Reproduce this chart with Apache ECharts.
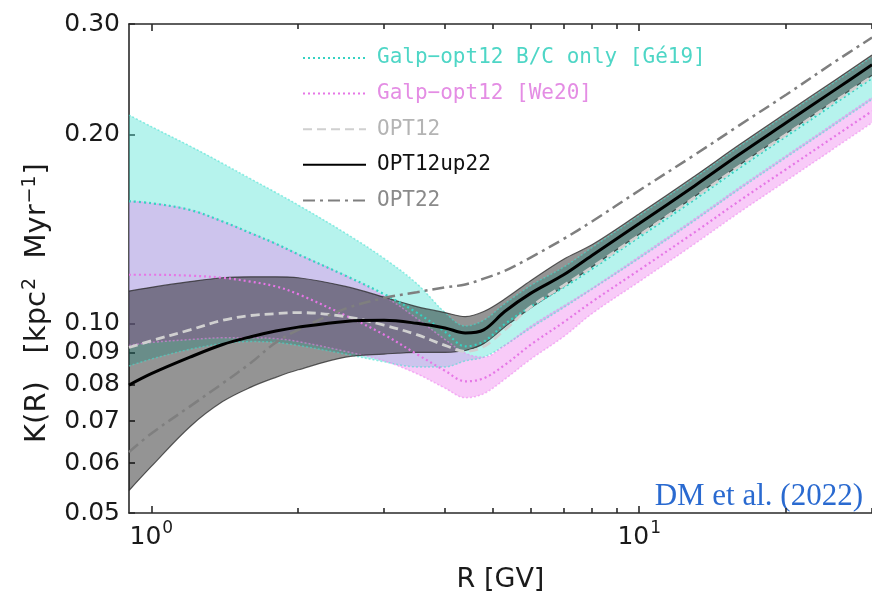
<!DOCTYPE html>
<html><head><meta charset="utf-8">
<script src="https://cdn.jsdelivr.net/npm/echarts@6/dist/echarts.min.js"></script>
<style>html,body{margin:0;padding:0;background:#fff}#c{width:872px;height:598px}</style>
</head><body><div id="c"></div>
<script>
// Rigidity grid (GV)
const R = [0.9, 1.0, 1.2, 1.4, 1.6, 1.8, 2.0, 2.5, 3.0, 3.5, 4.0, 4.4, 4.8, 5.3, 6.0, 7.0, 8.0, 10, 13, 16, 20, 25, 30];

// OPT12up22 (black) and its band
const opt12up22   = [0.0799,0.0833,0.0885,0.0927,0.0954,0.0974,0.0988,0.1009,0.1013,0.1002,0.0985,0.0967,0.0978,0.1046,0.1119,0.1197,0.1285,0.1444,0.1659,0.1858,0.2089,0.2348,0.2584];
const opt12up22Hi = [0.1127,0.1143,0.1167,0.1184,0.1188,0.1188,0.1184,0.1147,0.1103,0.1065,0.1042,0.1027,0.1046,0.1095,0.1172,0.1267,0.1336,0.1497,0.1719,0.1925,0.2165,0.2433,0.2678];
const opt12up22Lo = [0.0543,0.0593,0.0686,0.0752,0.0793,0.0822,0.0845,0.0885,0.0895,0.0901,0.0901,0.0907,0.0930,0.0988,0.1061,0.1147,0.1231,0.1389,0.1595,0.1787,0.2009,0.2259,0.2486];

// OPT12 (dashed) and OPT22 (dash-dot)
const opt12 = [0.0917,0.0940,0.0978,0.1013,0.1031,0.1038,0.1042,0.1027,0.0995,0.0961,0.0924,0.0904,0.0920,0.0978,0.1065,0.1151,0.1231,0.1384,0.1590,0.1781,0.2002,0.2251,0.2477];
const opt22 = [0.0625,0.0669,0.0739,0.0804,0.0867,0.0934,0.0978,0.1057,0.1099,0.1123,0.1143,0.1155,0.1180,0.1214,0.1276,0.1365,0.1455,0.1630,0.1858,0.2067,0.2315,0.2603,0.2854];

// Galp-opt12 B/C only [Ge19]
const ge19   = [0.1567,0.1556,0.1518,0.1455,0.1394,0.1341,0.1290,0.1193,0.1115,0.1042,0.0971,0.0921,0.0937,0.0999,0.1065,0.1143,0.1223,0.1374,0.1578,0.1768,0.1988,0.2235,0.2459];
const ge19Hi = [0.2149,0.2060,0.1918,0.1800,0.1700,0.1618,0.1545,0.1394,0.1271,0.1159,0.1042,0.0992,0.1013,0.1076,0.1151,0.1231,0.1322,0.1486,0.1707,0.1912,0.2149,0.2416,0.2659];
const ge19Lo = [0.0857,0.0879,0.0911,0.0930,0.0937,0.0934,0.0924,0.0895,0.0870,0.0854,0.0854,0.0873,0.0885,0.0924,0.0985,0.1061,0.1135,0.1271,0.1460,0.1635,0.1839,0.2067,0.2275];

// Galp-opt12 [We20]
const we20   = [0.1197,0.1197,0.1193,0.1184,0.1167,0.1147,0.1115,0.1031,0.0961,0.0895,0.0842,0.0810,0.0819,0.0860,0.0927,0.1006,0.1084,0.1218,0.1399,0.1567,0.1762,0.1981,0.2180];
const we20Hi = [0.1567,0.1556,0.1518,0.1455,0.1394,0.1341,0.1290,0.1193,0.1107,0.1020,0.0944,0.0898,0.0885,0.0924,0.0992,0.1068,0.1139,0.1280,0.1470,0.1647,0.1852,0.2082,0.2291];
const we20Lo = [0.0924,0.0934,0.0944,0.0950,0.0950,0.0947,0.0937,0.0904,0.0873,0.0833,0.0790,0.0763,0.0774,0.0816,0.0879,0.0954,0.1038,0.1167,0.1341,0.1502,0.1688,0.1898,0.2089];

// Axis ticks
const yTicks = [0.05, 0.06, 0.07, 0.08, 0.09, 0.10, 0.20, 0.30];
const xMajor = [1, 10];
const xMinor = [2, 3, 4, 5, 6, 7, 8, 9, 20, 30];
const xRange = [0.9, 30];
const yRange = [0.05, 0.30];

const names = {
  ge: 'Galp\u2212opt12 B/C only [G\u00e919]',
  we: 'Galp\u2212opt12 [We20]',
  o12: 'OPT12',
  up: 'OPT12up22',
  o22: 'OPT22'
};

const L = Math.log10;
const pts = a => R.map((r, i) => [L(r), L(a[i])]);
// for stacked band series: value first (stacked dim), rigidity second
const ptsYX = a => R.map((r, i) => [L(a[i]), L(r)]);
const diffYX = (lo, hi) => R.map((r, i) => [L(hi[i]) - L(lo[i]), L(r)]);
const SM = 0.35;

function band(id, lo, hi, fill) {
  return [
    {type: 'line', name: id + 'base', stack: id, stackStrategy: 'all', data: ptsYX(lo), encode: {x: 1, y: 0},
     smooth: SM, symbol: 'none', lineStyle: {opacity: 0}, silent: true, z: 1},
    {type: 'line', name: id + 'fill', stack: id, stackStrategy: 'all', data: diffYX(lo, hi), encode: {x: 1, y: 0},
     smooth: SM, symbol: 'none', lineStyle: {opacity: 0}, areaStyle: {color: fill, opacity: 1}, silent: true, z: 1}
  ];
}
function edge(id, a, color, type, w) {
  return {type: 'line', name: id, data: pts(a), smooth: SM, symbol: 'none', silent: true, z: 2,
    lineStyle: {color: color, type: type, width: w}};
}
function mainLine(name, a, color, type, w, z) {
  return {type: 'line', name: name, data: pts(a), smooth: SM, symbol: 'none', silent: true, z: z,
    itemStyle: {color: color}, lineStyle: {color: color, type: type, width: w}};
}

const series = [].concat(
  band('ge', ge19Lo, ge19Hi, 'rgba(64,224,208,0.38)'),
  band('we', we20Lo, we20Hi, 'rgba(238,130,238,0.42)'),
  band('up', opt12up22Lo, opt12up22Hi, 'rgba(0,0,0,0.42)'),
  [
    edge('geHiE', ge19Hi, 'rgba(64,224,208,0.55)', [2, 2], 1.5),
    edge('geLoE', ge19Lo, 'rgba(64,224,208,0.55)', [2, 2], 1.5),
    edge('weHiE', we20Hi, 'rgba(238,130,238,0.55)', [2, 2], 1.5),
    edge('weLoE', we20Lo, 'rgba(238,130,238,0.55)', [2, 2], 1.5),
    edge('upHiE', opt12up22Hi, 'rgba(40,40,40,0.75)', 'solid', 1.2),
    edge('upLoE', opt12up22Lo, 'rgba(40,40,40,0.75)', 'solid', 1.2),
    mainLine(names.ge, ge19, '#36d2c2', [2, 3], 2.2, 3),
    mainLine(names.we, we20, '#e676e6', [2, 3], 2.2, 3),
    mainLine(names.o12, opt12, '#d0d0d0', [9, 5], 2.8, 4),
    mainLine(names.o22, opt22, '#7f7f7f', [12, 5, 3, 5], 2.5, 4),
    mainLine(names.up, opt12up22, '#000000', 'solid', 3, 5)
  ]
);

const axisLineStyle = {color: '#2a2a2a', width: 1.6};
const xBase = {
  type: 'value', min: L(xRange[0]), max: L(xRange[1]), splitLine: {show: false}
};

const option = {
  animation: false,
  backgroundColor: '#ffffff',
  grid: {left: 129, top: 24, width: 754, height: 505, containLabel: false},
  xAxis: [
    Object.assign({}, xBase, {
      position: 'bottom',
      axisLine: {show: true, onZero: false, lineStyle: axisLineStyle},
      axisTick: {show: true, inside: true, length: 7, lineStyle: axisLineStyle, customValues: xMajor.map(L)},
      axisLabel: {show: true, margin: 7, customValues: xMajor.map(L),
        formatter: v => '{b|10}{s|' + Math.round(v) + '}',
        rich: {b: {fontSize: 25, fontFamily: 'DejaVu Sans', color: '#1a1a1a', lineHeight: 30, verticalAlign: 'bottom'},
               s: {fontSize: 17, fontFamily: 'DejaVu Sans', color: '#1a1a1a', lineHeight: 30, verticalAlign: 'top', padding: [0, 0, 0, 1]}}},
      name: 'R [GV]', nameLocation: 'middle', nameGap: 53,
      nameTextStyle: {fontSize: 27, fontFamily: 'DejaVu Sans', color: '#1a1a1a'}
    }),
    Object.assign({}, xBase, {
      position: 'bottom', axisLine: {show: false, onZero: false}, axisLabel: {show: false},
      axisTick: {show: true, inside: true, length: 5, lineStyle: axisLineStyle, customValues: xMinor.map(L)}
    }),
    Object.assign({}, xBase, {
      position: 'top', axisLine: {show: true, onZero: false, lineStyle: axisLineStyle}, axisLabel: {show: false},
      axisTick: {show: true, inside: true, length: 7, lineStyle: axisLineStyle, customValues: xMajor.map(L)}
    }),
    Object.assign({}, xBase, {
      position: 'top', axisLine: {show: false, onZero: false}, axisLabel: {show: false},
      axisTick: {show: true, inside: true, length: 5, lineStyle: axisLineStyle, customValues: xMinor.map(L)}
    })
  ],
  yAxis: [{
    type: 'value', min: L(yRange[0]), max: L(yRange[1]), position: 'left',
    splitLine: {show: false},
    axisLine: {show: true, onZero: false, lineStyle: axisLineStyle},
    axisTick: {show: true, inside: true, length: 6, lineStyle: axisLineStyle, customValues: yTicks.map(L)},
    axisLabel: {show: true, margin: 9, customValues: yTicks.map(L),
      formatter: v => Math.pow(10, v).toFixed(2),
      fontSize: 25, fontFamily: 'DejaVu Sans', color: '#1a1a1a'}
  }],
  legend: {
    orient: 'vertical', left: 297, top: 41, itemWidth: 63, itemHeight: 14, itemGap: 11.6,
    selectedMode: false,
    itemStyle: {opacity: 0},
    textStyle: {fontFamily: 'DejaVu Sans Mono', fontSize: 21, lineHeight: 24, padding: [0, 0, 0, 6]},
    data: [
      {name: names.ge, textStyle: {color: '#4ed6c6'}},
      {name: names.we, textStyle: {color: '#e48de4'}},
      {name: names.o12, textStyle: {color: '#b4b4b4'}},
      {name: names.up, textStyle: {color: '#111111'}},
      {name: names.o22, textStyle: {color: '#8a8a8a'}}
    ]
  },
  graphic: [
    {type: 'text', x: 37, y: 303, rotation: Math.PI / 2, silent: true,
     style: {text: 'K(R)   [kpc{s|2}  Myr{s|\u22121}]', font: '29px "DejaVu Sans"', fill: '#1a1a1a',
             align: 'center', verticalAlign: 'middle',
             rich: {s: {fontSize: 19, fontFamily: 'DejaVu Sans', fill: '#1a1a1a', padding: [0, 1, 14, 1]}}}},
    {type: 'text', right: 9, top: 481, silent: true,
     style: {text: 'DM et al. (2022)', font: '31px "Liberation Serif"', fill: '#2a6ad0'}}
  ],
  series: series
};

const chart = echarts.init(document.getElementById('c'), null, {renderer: 'canvas'});
chart.setOption(option);
</script></body></html>
